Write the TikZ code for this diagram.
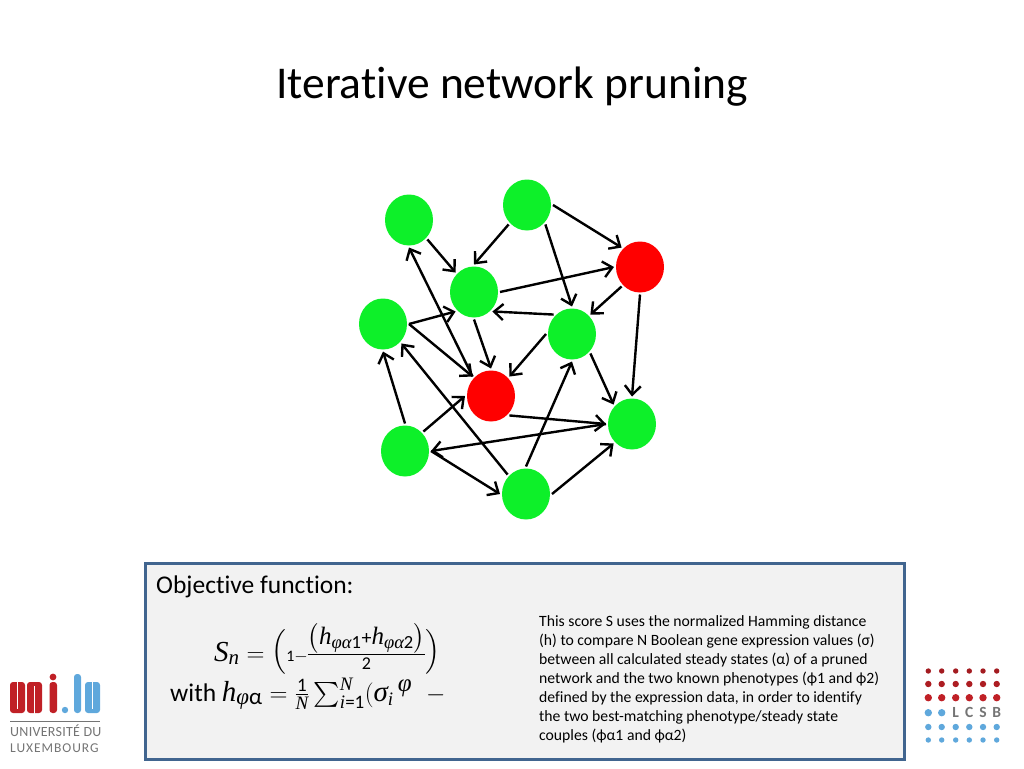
\documentclass[tikz,border=0pt]{standalone}
\usepackage{fontspec}
\usepackage{amsmath}
\setmainfont{Carlito}[RawFeature={-liga}]
\newfontfamily\formulafont{Liberation Serif}
\newcommand{\mvar}[1]{\text{\formulafont\itshape #1}}
\newcommand{\sized}[2]{\hbox{\fontsize{#1}{#1}\selectfont #2}}
\newcommand{\openparen}{\raisebox{3pt}{\sized{23.3}{$\left(\vcenter to 40pt{}\right.$}}}
\newcommand{\closeparen}{\raisebox{3pt}{\sized{23.3}{$\left.\vcenter to 40pt{}\right)$}}}
\usetikzlibrary{shapes.geometric,arrows.meta}
\definecolor{nodegreen}{HTML}{0DF029}
\definecolor{nodered}{HTML}{FF0000}
\definecolor{boxedge}{HTML}{41658F}
\definecolor{boxfill}{HTML}{F2F2F2}
\definecolor{unired}{HTML}{C02026}
\definecolor{uniblue}{HTML}{5FA8DC}
\definecolor{unigray}{HTML}{747474}
\tikzset{
  gene/.style={ellipse,minimum width=48pt,minimum height=51pt,inner sep=0pt,outer sep=2pt,fill=nodegreen},
  redgene/.style={gene,fill=nodered},
  link/.style={-{Straight Barb[length=9pt,width=16pt,line width=2.4pt]},line width=2.4pt,black},
  label/.style={inner sep=0pt,anchor=base west,align=left},
  logotext/.style={inner sep=0pt,anchor=base west,text=unigray},
  lcsbletter/.style={inner sep=0pt,text=unigray,font=\fontsize{15.5}{16}\selectfont\bfseries},
  slit/.style={fill=white},
}
\begin{document}
\begin{tikzpicture}[x=1pt,y=-1pt]
\useasboundingbox (0,0) rectangle (1024,768);
\node[inner sep=0pt,font=\fontsize{45.5}{50}\selectfont] (title) at (512,87) {Iterative network pruning};
% network
\node[gene] (a) at (409,220) {};
\node[gene] (b) at (527,205) {};
\node[redgene] (c) at (640,267) {};
\node[gene] (d) at (474,292) {};
\node[gene] (e) at (383,324) {};
\node[gene] (f) at (572,334) {};
\node[redgene] (g) at (491,396) {};
\node[gene] (h) at (632,424) {};
\node[gene] (i) at (405,451) {};
\node[gene] (j) at (526,494) {};
\draw[link] (a.south east) -- (d.north west);
\draw[link] (b.south west) -- (d.north);
\draw[link] (b.east) -- (c.north west);
\draw[link] (b.south east) -- (f.north);
\draw[link] (d.east) -- (c.west);
\draw[link] (c.south west) -- (f.north east);
\draw[link] (f.north west) -- (d.south east);
\draw[link] (e.east) -- (d.south west);
\draw[link] (e.east) -- (g.north west);
\draw[link] (g.north west) -- (a.south);
\draw[link] (d.south) -- (g.north);
\draw[link] (f.west) -- (g.north east);
\draw[link] (f.south east) -- (h.north west);
\draw[link] (c.south) -- (h.north);
\draw[link] (g.south east) -- (h.west);
\draw[link] (h.west) -- (i.east);
\draw[link] (i.east) -- (j.west);
\draw[link] (i.north) -- (e.south);
\draw[link] (i.north east) -- (g.west);
\draw[link] (j.north west) -- (e.south east);
\draw[link] (j.north) -- (f.south);
\draw[link] (j.east) -- (h.south west);
% box
\node[draw=boxedge,line width=3pt,fill=boxfill,minimum width=759pt,minimum height=196pt,inner sep=0pt,outer sep=0pt] (box) at (525,661) {};
\node[label,font=\fontsize{25.5}{28}\selectfont] (objective) at (156,593) {Objective function:};
\node[label,font=\fontsize{29}{30}\selectfont] (formulaone) at (214,661) {$\nulldelimiterspace=0pt \mvar{S}_{\sized{21}{\mvar{n}}}=\openparen\sized{16}{1}\sized{17}{$-$}\frac{\sized{25}{$\left(\mvar{h}_{\sized{18.5}{\mvar{φα}1}}\sized{20}{+}\mvar{h}_{\sized{18.5}{\mvar{φα}2}}\right)$}}{\sized{18}{2}}\closeparen$};
\node[label,font=\fontsize{25.5}{28}\selectfont] (formulatwo) at (170,701) {with \fontsize{29}{30}\selectfont $\mvar{h}_{\sized{23}{\mvar{φ}α}}=\frac{\sized{19}{1}}{\sized{19}{\mvar{N}}}\textstyle\sum\nolimits_{\sized{19}{\mvar{i}=1}}^{\sized{19}{\mvar{N}}}(\mvar{σ}_{\sized{19}{\mvar{i}}}{}\,{}^{\sized{25}{\mvar{φ}}}\;\;-$};
\node[label,anchor=north west,font=\fontsize{15.7}{19}\selectfont] (explain) at (539,615) {This score S uses the normalized Hamming distance\\(h) to compare N Boolean gene expression values (σ)\\between all calculated steady states (α) of a pruned\\network and the two known phenotypes (ϕ1 and ϕ2)\\defined by the expression data, in order to identify\\the two best-matching phenotype/steady state\\couples (ϕα1 and ϕα2)};
% uni.lu logo
\fill[unired,rounded corners=3pt] (10,682) rectangle (25,713);
\fill[slit] (16.8,680) rectangle (18.2,709);
\fill[unired,rounded corners=3pt] (27,682) rectangle (42,713);
\fill[slit] (33.8,686) rectangle (35.2,715);
\fill[unired,rounded corners=3pt] (49.5,682) rectangle (57,713);
\fill[unired] (53,677) circle (3.4pt);
\fill[uniblue] (65,710) circle (3.2pt);
\fill[uniblue,rounded corners=3pt] (74,674) rectangle (81,713);
\fill[uniblue,rounded corners=3pt] (85,682) rectangle (100,713);
\fill[slit] (91.8,680) rectangle (93.2,709);
\draw[unigray,line width=1pt] (10,721) -- (100,721);
\node[logotext,font=\fontsize{14}{15}\selectfont\addfontfeature{LetterSpace=2}] (unitextone) at (10,736) {UNIVERSITÉ DU};
\node[logotext,font=\fontsize{13.5}{15}\selectfont\addfontfeature{LetterSpace=7}] (unitexttwo) at (10,752) {LUXEMBOURG};
% LCSB logo
\foreach \x in {928.3,941.7,955.7,969.3,983,996.7} {
  \fill[unired!85!black] (\x,671) circle (2.7pt);
  \fill[unired!90!black] (\x,684) circle (3.2pt);
  \fill[unired] (\x,697.7) circle (3.7pt);
  \fill[uniblue] (\x,727) circle (3.2pt);
  \fill[uniblue] (\x,740) circle (2.7pt);
}
\fill[uniblue] (928.3,712.7) circle (3.7pt) (941.7,712.7) circle (3.7pt);
\node[lcsbletter] (lcsbl) at (955.7,712.7) {L};
\node[lcsbletter] (lcsbc) at (969.3,712.7) {C};
\node[lcsbletter] (lcsbs) at (983,712.7) {S};
\node[lcsbletter] (lcsbb) at (996.7,712.7) {B};
\end{tikzpicture}
\end{document}
